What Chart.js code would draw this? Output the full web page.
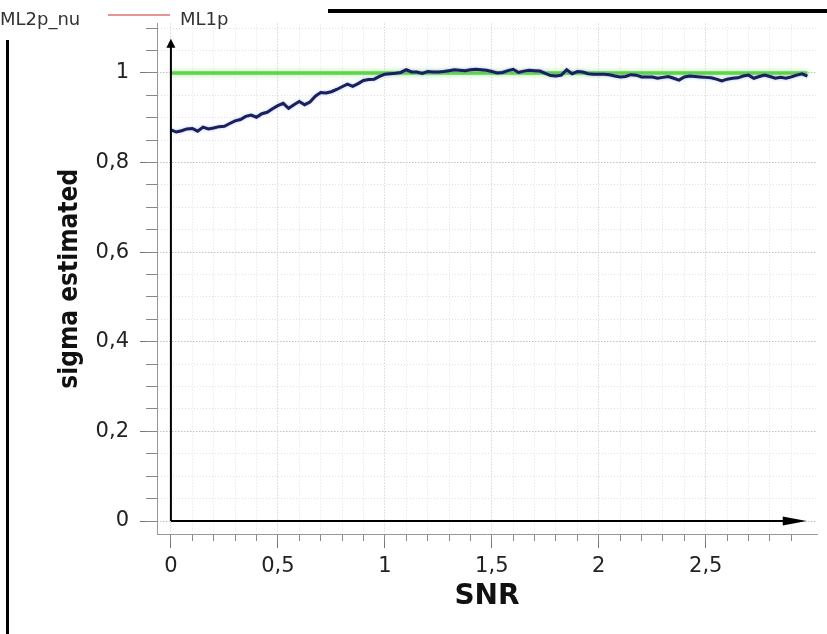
<!DOCTYPE html>
<html>
<head>
<meta charset="utf-8">
<script src="https://cdn.jsdelivr.net/npm/chart.js@4.4.1/dist/chart.umd.min.js"></script>
<style>
  html, body { margin: 0; padding: 0; background: #fff; }
  canvas { display: block; }
</style>
</head>
<body>
<canvas id="sigmaChart" width="827" height="634"></canvas>
<script>
// SNR values (x)
const snr = [
  0, 0.025, 0.05, 0.075, 0.1, 0.125, 0.15, 0.175, 0.2, 0.225,
  0.25, 0.275, 0.3, 0.325, 0.35, 0.375, 0.4, 0.425, 0.45, 0.475,
  0.5, 0.525, 0.55, 0.575, 0.6, 0.625, 0.65, 0.675, 0.7, 0.725,
  0.75, 0.775, 0.8, 0.825, 0.85, 0.875, 0.9, 0.925, 0.95, 0.975,
  1, 1.025, 1.05, 1.075, 1.1, 1.125, 1.15, 1.175, 1.2, 1.225,
  1.25, 1.275, 1.3, 1.325, 1.35, 1.375, 1.4, 1.425, 1.45, 1.475,
  1.5, 1.525, 1.55, 1.575, 1.6, 1.625, 1.65, 1.675, 1.7, 1.725,
  1.75, 1.775, 1.8, 1.825, 1.85, 1.875, 1.9, 1.925, 1.95, 1.975,
  2, 2.025, 2.05, 2.075, 2.1, 2.125, 2.15, 2.175, 2.2, 2.225,
  2.25, 2.275, 2.3, 2.325, 2.35, 2.375, 2.4, 2.425, 2.45, 2.475,
  2.5, 2.525, 2.55, 2.575, 2.6, 2.625, 2.65, 2.675, 2.7, 2.725,
  2.75, 2.775, 2.8, 2.825, 2.85, 2.875, 2.9, 2.925, 2.95, 2.975
];
// estimated sigma, ML2p_nu
const sigmaML2pNu = [
  0.873, 0.868, 0.871, 0.875, 0.876, 0.870, 0.879, 0.875, 0.877, 0.880,
  0.881, 0.887, 0.893, 0.896, 0.903, 0.906, 0.901, 0.909, 0.912, 0.920,
  0.927, 0.932, 0.921, 0.929, 0.936, 0.929, 0.935, 0.948, 0.956, 0.955,
  0.958, 0.963, 0.969, 0.975, 0.970, 0.976, 0.983, 0.985, 0.986, 0.992,
  0.997, 0.998, 0.999, 1.001, 1.007, 1.002, 1.002, 0.999, 1.003, 1.002,
  1.002, 1.003, 1.005, 1.007, 1.006, 1.005, 1.007, 1.008, 1.007, 1.006,
  1.003, 1.000, 1.001, 1.005, 1.008, 1.001, 1.004, 1.006, 1.005, 1.004,
  0.999, 0.994, 0.993, 0.995, 1.007, 0.998, 1.003, 1.002, 0.998, 0.997,
  0.997, 0.997, 0.996, 0.993, 0.991, 0.992, 0.996, 0.995, 0.991, 0.991,
  0.991, 0.988, 0.990, 0.992, 0.988, 0.984, 0.991, 0.993, 0.992, 0.991,
  0.990, 0.989, 0.986, 0.982, 0.986, 0.988, 0.989, 0.993, 0.995, 0.988,
  0.992, 0.995, 0.992, 0.988, 0.990, 0.988, 0.991, 0.995, 0.998, 0.993
];
// ML1p reference line
const snrML1p = [0, 2.975];
const sigmaML1p = [1, 1];

const xTickValues = [0, 0.5, 1, 1.5, 2, 2.5];
const xTickLabels = ['0', '0,5', '1', '1,5', '2', '2,5'];
const yTickValues = [0, 0.2, 0.4, 0.6, 0.8, 1];
const yTickLabels = ['0', '0,2', '0,4', '0,6', '0,8', '1'];

const xMin = -0.065, xMax = 3.02;
const yMin = -0.029, yMax = 1.11;
const xArrowTip = 2.972, yArrowTip = 1.076;

const tickFont = { family: '"DejaVu Sans", Verdana, sans-serif', size: 21 };

// soft halo round the two lines, like the original antialiased export
const lineGlow = {
  id: 'lineGlow',
  beforeDatasetDraw(chart, args) {
    const ctx = chart.ctx;
    ctx.save();
    if (args.index === 1) {
      ctx.shadowColor = 'rgba(150, 235, 130, 0.9)';
      ctx.shadowBlur = 5;
    } else {
      ctx.shadowColor = 'rgba(110, 150, 230, 0.55)';
      ctx.shadowBlur = 3;
    }
  },
  afterDatasetDraw(chart) {
    chart.ctx.restore();
  }
};

const frameDecor = {
  id: 'frameDecor',
  afterDraw(chart) {
    const ctx = chart.ctx;
    const xs = chart.scales.x, ys = chart.scales.y;
    const x0 = xs.getPixelForValue(0), y0 = ys.getPixelForValue(0);
    const xt = xs.getPixelForValue(xArrowTip), yt = ys.getPixelForValue(yArrowTip);
    ctx.save();
    ctx.strokeStyle = '#000';
    ctx.fillStyle = '#000';
    ctx.lineWidth = 2;
    ctx.beginPath();
    ctx.moveTo(x0, y0);
    ctx.lineTo(xt - 20, y0);
    ctx.moveTo(x0, y0);
    ctx.lineTo(x0, yt + 6);
    ctx.stroke();
    // arrow heads
    ctx.beginPath();
    ctx.moveTo(xt, y0);
    ctx.lineTo(xt - 24, y0 - 4.5);
    ctx.lineTo(xt - 24, y0 + 4.5);
    ctx.closePath();
    ctx.fill();
    ctx.beginPath();
    ctx.moveTo(x0, yt);
    ctx.lineTo(x0 - 4.5, yt + 9);
    ctx.lineTo(x0 + 4.5, yt + 9);
    ctx.closePath();
    ctx.fill();
    // window frame edges left in the screenshot
    ctx.fillRect(328, 9, 499, 4);
    ctx.fillRect(6, 40, 3, 594);
    // legend
    ctx.font = '18px "DejaVu Sans", Verdana, sans-serif';
    ctx.fillStyle = '#333';
    ctx.textBaseline = 'middle';
    ctx.fillText('ML2p_nu', 0, 20);
    ctx.fillText('ML1p', 180, 20);
    ctx.strokeStyle = '#e07070';
    ctx.lineWidth = 1.5;
    ctx.beginPath();
    ctx.moveTo(108, 15);
    ctx.lineTo(170, 15);
    ctx.stroke();
    ctx.restore();
  }
};

new Chart(document.getElementById('sigmaChart'), {
  type: 'line',
  data: {
    datasets: [
      {
        label: 'ML2p_nu',
        data: snr.map((x, i) => ({ x: x, y: sigmaML2pNu[i] })),
        borderColor: '#1b1f5e',
        borderWidth: 3,
        pointRadius: 0,
        tension: 0
      },
      {
        label: 'ML1p',
        data: snrML1p.map((x, i) => ({ x: x, y: sigmaML1p[i] })),
        borderColor: '#5fd34a',
        borderWidth: 3.5,
        pointRadius: 0
      }
    ]
  },
  options: {
    responsive: false,
    devicePixelRatio: 1,
    animation: false,
    layout: { padding: { top: 23, right: 10, left: 0, bottom: 0 } },
    plugins: { legend: { display: false }, tooltip: { enabled: false } },
    scales: {
      x: {
        type: 'linear', position: 'bottom', min: xMin, max: xMax, weight: 1,
        afterBuildTicks: s => { s.ticks = xTickValues.map(v => ({ value: v })); },
        afterFit: s => { s.height = 100; },
        ticks: {
          autoSkip: false, maxRotation: 0, padding: 6, color: '#222', font: tickFont,
          callback: (v, i) => xTickLabels[i]
        },
        grid: { color: '#c2c2c2', tickColor: '#777', tickLength: 14 },
        border: { display: false, dash: [1, 2] },
        title: {
          display: true, text: 'SNR', color: '#111',
          font: { family: '"DejaVu Sans", Verdana, sans-serif', size: 28, weight: 'bold', lineHeight: 1.2 },
          padding: { top: 0, bottom: 20 }
        }
      },
      xMinor: {
        axis: 'x', type: 'linear', position: 'bottom', min: xMin, max: xMax, weight: 0,
        afterBuildTicks: s => { s.ticks = s.ticks.filter(t => t.value >= 0 && t.value <= 2.95); },
        afterFit: s => { s.height = 0; },
        ticks: { display: false, stepSize: 0.1, includeBounds: false, autoSkip: false },
        grid: { color: '#e0e0e0', tickColor: '#888', tickLength: 7 },
        border: { display: true, color: '#999', width: 1, dash: [1, 2] }
      },
      y: {
        type: 'linear', position: 'left', min: yMin, max: yMax, weight: 1,
        afterBuildTicks: s => { s.ticks = yTickValues.map(v => ({ value: v })); },
        afterFit: s => { s.width = 157; },
        ticks: {
          autoSkip: false, padding: 11, color: '#222', font: tickFont,
          callback: (v, i) => yTickLabels[i]
        },
        grid: { color: '#c2c2c2', tickColor: '#777', tickLength: 17 },
        border: { display: false, dash: [1, 2] },
        title: {
          display: true, text: 'sigma estimated', color: '#111',
          font: { family: '"DejaVu Sans Condensed", "Liberation Sans", sans-serif', size: 26, weight: 'bold', lineHeight: 1.2 },
          padding: { top: 55, bottom: 0 }
        }
      },
      yMinor: {
        axis: 'y', type: 'linear', position: 'left', min: yMin, max: yMax, weight: 0,
        afterBuildTicks: s => { s.ticks = s.ticks.filter(t => t.value >= 0); },
        afterFit: s => { s.width = 0; },
        ticks: { display: false, stepSize: 0.05, includeBounds: false, autoSkip: false },
        grid: { color: '#e0e0e0', tickColor: '#888', tickLength: 11 },
        border: { display: true, color: '#999', width: 1, dash: [1, 2] }
      }
    }
  },
  plugins: [lineGlow, frameDecor]
});
</script>
</body>
</html>
